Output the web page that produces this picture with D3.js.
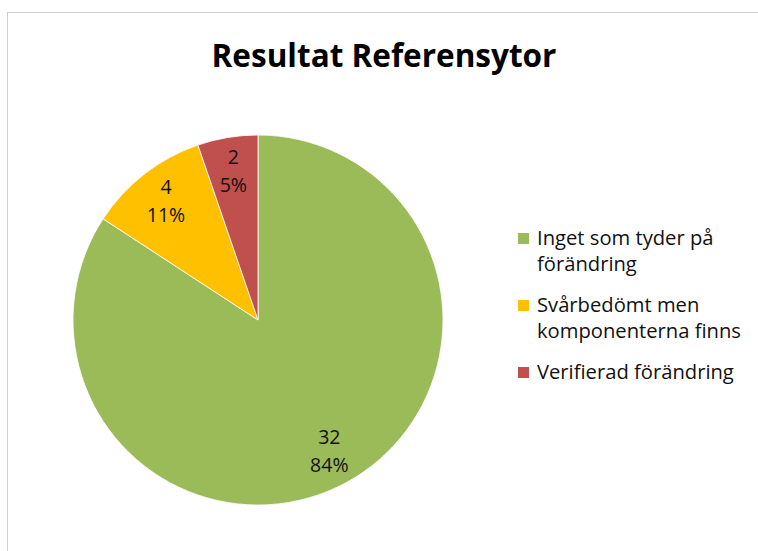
<!DOCTYPE html>
<html>
<head>
<meta charset="utf-8">
<script src="https://cdn.jsdelivr.net/npm/d3@7"></script>
<style>
  body { margin: 0; background: #fff; }
  text { font-family: "Open Sans", Lato, sans-serif; }
</style>
</head>
<body>
<div id="chart"></div>
<script>
const categories = ["Inget som tyder på förändring", "Svårbedömt men komponenterna finns", "Verifierad förändring"];
const legendLines = [["Inget som tyder på", "förändring"], ["Svårbedömt men", "komponenterna finns"], ["Verifierad förändring"]];
const values = [32, 4, 2];
const percents = ["84%", "11%", "5%"];
const colors = ["#9bbb59", "#ffc000", "#c0504d"];

let width = 758,
    height = 551,
    radius = 185;

let svg = d3.select("#chart")
    .append("svg")
    .attr("width", width)
    .attr("height", height);

// chart area border (right and bottom run off the picture)
svg.append("rect")
    .attr("x", 7.5).attr("y", 12.5)
    .attr("width", 800).attr("height", 600)
    .attr("fill", "none")
    .attr("stroke", "#d0d0d0");

svg.append("text")
    .attr("x", 384).attr("y", 67)
    .attr("text-anchor", "middle")
    .style("font-size", "31.5px")
    .style("font-weight", "bold")
    .attr("fill", "#000")
    .text("Resultat Referensytor");

let data = d3.pie().sort(null).value(d => d)(values);

let arc = d3.arc().innerRadius(0).outerRadius(radius);
let labelArc = d3.arc().innerRadius(radius * 0.81).outerRadius(radius * 0.81);

let g = svg.append("g").attr("transform", "translate(258,320)");

g.selectAll("path").data(data)
    .enter().append("path")
    .attr("d", arc)
    .attr("fill", (d, i) => colors[i])
    .attr("stroke", "#fff")
    .attr("stroke-width", 0.8);

let labels = g.selectAll(".lbl").data(data)
    .enter().append("text")
    .classed("lbl", true)
    .attr("transform", d => "translate(" + labelArc.centroid(d) + ")")
    .attr("text-anchor", "middle")
    .attr("fill", "#111")
    .style("font-size", "19.5px");
labels.append("tspan").attr("x", 0).attr("y", -8).text(d => d.data);
labels.append("tspan").attr("x", 0).attr("y", 20).text((d, i) => percents[i]);

let legendY = [245, 312, 379];
let legend = svg.append("g").selectAll(".legends").data(categories)
    .enter().append("g").classed("legends", true)
    .attr("transform", (d, i) => "translate(518," + legendY[i] + ")");
legend.append("rect")
    .attr("x", 0).attr("y", -12)
    .attr("width", 11).attr("height", 11)
    .attr("fill", (d, i) => colors[i]);
legend.append("text")
    .attr("fill", "#111")
    .style("font-size", "20.2px")
    .selectAll("tspan").data((d, i) => legendLines[i])
    .enter().append("tspan")
    .attr("x", 19)
    .attr("y", (d, j) => j * 26)
    .text(d => d);
</script>
</body>
</html>
